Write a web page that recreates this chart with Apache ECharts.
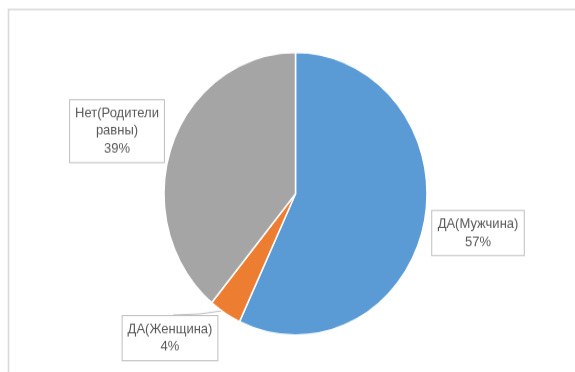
<!DOCTYPE html>
<html>
<head>
<meta charset="utf-8">
<script src="https://cdn.jsdelivr.net/npm/echarts@6/dist/echarts.min.js"></script>
<style>
  html, body { margin: 0; padding: 0; background: #fff; width: 575px; height: 372px; overflow: hidden; }
  #frame { width: 575px; height: 372px; position: relative; }
  /* the plot is drawn slightly flattened, then stretched to the window height */
  #chart { position: absolute; left: 0; top: 0; width: 575px; height: 346px; transform: scaleY(1.0751); transform-origin: 0 0; }
</style>
</head>
<body>
<div id="frame"><div id="chart"></div></div>
<script>
// Answer categories and their shares (%)
const categories = ['ДА(Мужчина)', 'ДА(Женщина)', 'Нет(Родители\nравны)'];
const shares = [57, 4, 39];
const colors = ['#5B9BD5', '#ED7D31', '#A5A5A5'];

// where each callout box sits (centre of box)
const labelSpots = [
  { x: 478, y: 216.8 },
  { x: 170, y: 314.6 },
  { x: 117, y: 121.9 }
];

const chart = echarts.init(document.getElementById('chart'), null, { renderer: 'canvas' });

chart.setOption({
  backgroundColor: '#ffffff',
  animation: false,
  graphic: [{
    type: 'rect',
    shape: { x: 8.5, y: 8.8, width: 700, height: 500 },
    style: { fill: 'none', stroke: '#d9d9d9', lineWidth: 1.6 },
    silent: true
  }],
  series: [{
    type: 'pie',
    center: [295.5, 180.2],
    radius: 131.5,
    startAngle: 90,
    clockwise: true,
    itemStyle: { borderColor: '#ffffff', borderWidth: 1.5 },
    data: categories.map((name, i) => ({
      name: name,
      value: shares[i],
      itemStyle: { color: colors[i] },
      labelLine: { show: i === 1 }
    })),
    label: {
      show: true,
      position: 'outside',
      overflow: 'none',
      formatter: p => p.name + '\n' + p.value + '%',
      fontFamily: 'Liberation Sans',
      fontSize: 13,
      lineHeight: 16.5,
      color: '#595959',
      align: 'center',
      backgroundColor: '#ffffff',
      borderColor: '#bfbfbf',
      borderWidth: 1,
      padding: [4, 5, 4, 5]
    },
    labelLine: {
      lineStyle: { color: '#bfbfbf', width: 1 }
    },
    labelLayout: function (params) {
      const s = labelSpots[params.dataIndex];
      const out = {
        x: s.x, y: s.y, align: 'center', verticalAlign: 'middle'
      };
      if (params.dataIndex === 1) {
        out.labelLinePoints = [[221, 289.2], [200, 292], [173, 293]];
      }
      return out;
    }
  }]
});
</script>
</body>
</html>
